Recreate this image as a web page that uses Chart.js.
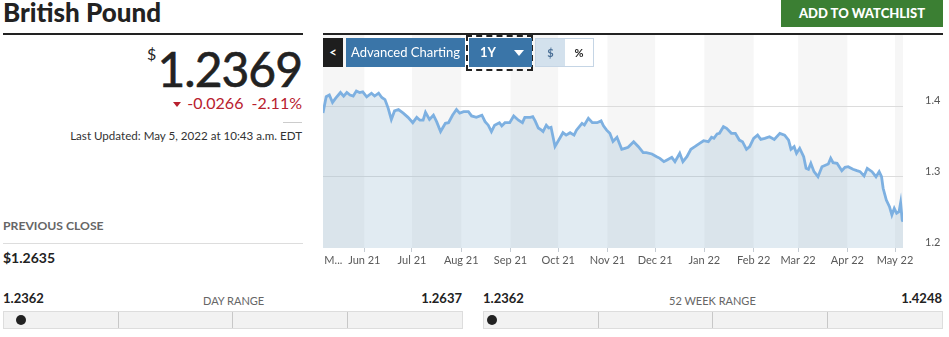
<!DOCTYPE html>
<html>
<head>
<meta charset="utf-8">
<script src="https://cdn.jsdelivr.net/npm/chart.js@4.4.1/dist/chart.umd.min.js"></script>
<style>
  body { margin: 0; width: 949px; height: 337px; position: relative; overflow: hidden; background: #fff; font-family: Lato, "Open Sans", sans-serif; color: #222; }
  .abs { position: absolute; white-space: nowrap; line-height: 1.2; }
  .rule { position: absolute; background: #222; }
  .btn { position: absolute; top: 38px; height: 29px; color: #fff; font-size: 13px; line-height: 29px; text-align: center; }
  .bar { position: absolute; top: 311px; height: 16px; background: #f2f2f2; border: 1px solid #ddd; }
  .bar i { position: absolute; top: 0; bottom: 0; width: 1px; background: #c8c8c8; }
  .bar b { position: absolute; top: 3px; width: 10px; height: 10px; border-radius: 50%; background: #222; }
  #chartBox { position: absolute; left: 323px; top: 35px; width: 626px; height: 235px; }
</style>
</head>
<body>
  <div class="abs" style="left:3px;top:-3px;font-size:26px;font-weight:900;">British Pound</div>
  <div class="rule" style="left:3px;top:33px;width:300px;height:2px;"></div>
  <div class="rule" style="left:323px;top:33px;width:620px;height:2px;"></div>
  <div class="abs" style="left:781px;top:0;width:162px;height:27px;background:#3b7f33;color:#fff;font-size:13px;font-weight:900;line-height:27px;text-align:center;">ADD TO WATCHLIST</div>

  <div class="abs" style="left:147px;top:44px;font-size:16px;">$</div>
  <div class="abs" style="right:647px;top:40px;font-size:48px;letter-spacing:-1px;-webkit-text-stroke:0.6px #222;">1.2369</div>
  <div class="abs" style="right:647px;top:93px;font-size:16px;color:#b8202e;"><span style="display:inline-block;width:0;height:0;border-left:4.5px solid transparent;border-right:4.5px solid transparent;border-top:5px solid #b8202e;margin-right:6px;vertical-align:2px;"></span>-0.0266&nbsp;&nbsp;-2.11%</div>
  <div class="abs" style="left:283px;top:122px;width:19px;height:1px;background:#ccc;"></div>
  <div class="abs" style="right:647px;top:129px;font-size:11.6px;color:#333;">Last Updated: May 5, 2022 at 10:43 a.m. EDT</div>

  <div class="abs" style="left:3px;top:219px;font-size:12.2px;font-weight:700;color:#666;">PREVIOUS CLOSE</div>
  <div class="abs" style="left:3px;top:243px;width:300px;height:1px;background:#ddd;"></div>
  <div class="abs" style="left:3px;top:250px;font-size:14px;font-weight:700;">$1.2635</div>

  <div class="abs" style="left:3px;top:291px;font-size:13px;font-weight:700;">1.2362</div>
  <div class="abs" style="left:203px;top:294px;font-size:11px;color:#666;">DAY RANGE</div>
  <div class="abs" style="right:487px;top:291px;font-size:13px;font-weight:700;">1.2637</div>
  <div class="bar" style="left:3px;width:458px;"><i style="left:114px"></i><i style="left:228px"></i><i style="left:343px"></i><b style="left:12px"></b></div>

  <div class="abs" style="left:483px;top:291px;font-size:13px;font-weight:700;">1.2362</div>
  <div class="abs" style="left:669px;top:294px;font-size:11px;color:#666;">52 WEEK RANGE</div>
  <div class="abs" style="right:7px;top:291px;font-size:13px;font-weight:700;">1.4248</div>
  <div class="bar" style="left:483px;width:458px;"><i style="left:114px"></i><i style="left:228px"></i><i style="left:343px"></i><b style="left:3px"></b></div>

  <div id="chartBox"><canvas id="fxChart"></canvas></div>

  <div class="btn" style="left:323px;width:20px;background:#1e1e1e;font-weight:700;">&lt;</div>
  <div class="btn" style="left:346px;width:119px;background:#3a75a8;">Advanced Charting</div>
  <div class="abs" style="left:466px;top:35px;width:63px;height:32px;border:2px dashed #222;"></div>
  <div class="btn" style="left:469px;width:63px;background:#3a75a8;font-weight:700;text-align:left;"><span style="margin-left:11px;">1Y</span><span style="position:absolute;left:45px;top:12px;width:0;height:0;border-left:5px solid transparent;border-right:5px solid transparent;border-top:6px solid #fff;"></span></div>
  <div class="abs" style="left:535px;top:38px;width:57px;height:27px;border:1px solid #c5d5e5;font-size:11px;font-weight:700;line-height:27px;">
    <span style="position:absolute;left:0;top:0;width:29px;height:27px;background:#d3e1ed;color:#4a6f96;text-align:center;">$</span>
    <span style="position:absolute;left:29px;top:0;width:28px;height:27px;color:#222;text-align:center;">%</span>
  </div>

<script>
// GBP/USD closing rate, one year
// x values are days since 2021-05-06
const days = [
  0, 2, 4, 6, 8, 11, 13, 15, 17, 19,
  21, 23, 25, 27.5, 30.5, 32.5, 35, 37, 39, 41,
  43, 45, 47.5, 50.5, 53.5, 56.5, 59, 61, 63, 64.5,
  67, 69.5, 71.5, 74, 77, 79, 81.5, 84, 86, 88.5,
  91.5, 93.5, 96.5, 100, 102, 104, 106, 108, 111, 112.5,
  114.5, 117.5, 120, 123, 125.5, 127, 130.5, 132, 133.5, 135.5,
  137.5, 138.5, 140.5, 142, 143.5, 146, 149, 151, 153, 155.5,
  158, 159.5, 163, 164.5, 167, 169.5, 172.5, 175, 176.5, 178.5,
  180.5, 182.5, 185, 188, 190, 192, 195.5, 198.5, 201.5, 203.5,
  207, 210, 212, 214.5, 216.5, 219.5, 221.5, 224.5, 226.5, 229,
  231.5, 234, 237, 239.5, 242.5, 244.5, 246, 248, 249.5, 252,
  254, 257, 259.5, 262, 264, 266.5, 268.5, 271, 273.5, 275.5,
  278, 281, 284, 287.5, 290.5, 293, 294.5, 296.5, 298, 300,
  302.5, 304, 305.5, 307, 309, 311.5, 314, 316.5, 318, 319.5,
  321, 323.5, 326.5, 328.5, 330.5, 333.5, 336, 338, 340.5, 342.5,
  345.5, 348, 350, 351.5, 352.5, 354.5, 356.5, 358, 359.5, 361,
  362.5, 363.5, 364.5, 365
];
const rates = [
  1.390, 1.413, 1.4155, 1.405, 1.411, 1.419, 1.414, 1.419, 1.4155, 1.414,
  1.421, 1.419, 1.420, 1.413, 1.418, 1.414, 1.418, 1.412, 1.409, 1.397,
  1.381, 1.393, 1.395, 1.390, 1.384, 1.3765, 1.384, 1.380, 1.380, 1.391,
  1.381, 1.387, 1.378, 1.364, 1.3756, 1.3765, 1.387, 1.395, 1.390, 1.392,
  1.392, 1.386, 1.384, 1.387, 1.378, 1.373, 1.364, 1.373, 1.3765, 1.372,
  1.3765, 1.3765, 1.386, 1.380, 1.3765, 1.384, 1.384, 1.385, 1.379, 1.369,
  1.366, 1.364, 1.373, 1.369, 1.370, 1.343, 1.3545, 1.3624, 1.359, 1.3624,
  1.359, 1.366, 1.3756, 1.3732, 1.3827, 1.3765, 1.3765, 1.379, 1.372, 1.366,
  1.3615, 1.350, 1.356, 1.339, 1.3404, 1.3418, 1.3497, 1.3427, 1.3343, 1.3343,
  1.3324, 1.3286, 1.3263, 1.3216, 1.324, 1.3277, 1.3216, 1.3333, 1.3216, 1.3286,
  1.339, 1.3427, 1.3474, 1.3511, 1.3497, 1.3559, 1.3545, 1.3606, 1.3615, 1.3709,
  1.3686, 1.3615, 1.3615, 1.352, 1.3497, 1.339, 1.3427, 1.3545, 1.359, 1.353,
  1.3545, 1.3568, 1.353, 1.3615, 1.359, 1.352, 1.339, 1.3427, 1.3333, 1.3404,
  1.3286, 1.3122, 1.3108, 1.3193, 1.3075, 1.3004, 1.3145, 1.3169, 1.3183, 1.3263,
  1.3202, 1.3193, 1.3089, 1.3136, 1.3145, 1.3108, 1.3089, 1.3075, 1.3014, 1.3122,
  1.3075, 1.3004, 1.3075, 1.3004, 1.2841, 1.2676, 1.2582, 1.2465, 1.2559, 1.2489,
  1.2511, 1.2638, 1.2394, 1.2369
];

const startDay = "2021-05-06";
const monthStarts = ["2021-06-01", "2021-07-01", "2021-08-01", "2021-09-01", "2021-10-01", "2021-11-01",
                     "2021-12-01", "2022-01-01", "2022-02-01", "2022-03-01", "2022-04-01", "2022-05-01"];
const monthLabels = ["Jun 21", "Jul 21", "Aug 21", "Sep 21", "Oct 21", "Nov 21",
                     "Dec 21", "Jan 22", "Feb 22", "Mar 22", "Apr 22", "May 22"];
const firstLabel = "M...";   // cut-off label for the partial first month
const firstLabelDay = 6.5;
const yTicks = [1.2, 1.3, 1.4];

function dayOf(s) {
  return (Date.parse(s) - Date.parse(startDay)) / 86400000;
}
const monthDays = monthStarts.map(dayOf);
const tickDays = [firstLabelDay].concat(monthDays);
const tickLabels = [firstLabel].concat(monthLabels);

// month stripes behind the area, every other month shaded
const stripes = {
  id: "stripes",
  beforeDraw(chart) {
    const { ctx, chartArea, scales } = chart;
    const edges = [scales.x.min].concat(monthDays, [scales.x.max]);
    ctx.save();
    for (let i = 0; i < edges.length - 1; i++) {
      if (i % 2 === 1) continue;
      const x0 = scales.x.getPixelForValue(edges[i]);
      const x1 = scales.x.getPixelForValue(edges[i + 1]);
      ctx.fillStyle = "#f6f6f6";
      ctx.fillRect(x0, chartArea.top, x1 - x0, chartArea.bottom - chartArea.top);
    }
    ctx.restore();
  }
};

Chart.defaults.font.family = "Lato, 'Open Sans', sans-serif";

new Chart(document.getElementById("fxChart"), {
  type: "line",
  data: {
    datasets: [{
      data: days.map((d, i) => ({ x: d, y: rates[i] })),
      borderColor: "#7db0e1",
      borderWidth: 2.8,
      backgroundColor: "rgba(135, 175, 205, 0.25)",
      fill: "start",
      pointRadius: 0,
      tension: 0
    }]
  },
  options: {
    responsive: true,
    maintainAspectRatio: false,
    animation: false,
    layout: { autoPadding: false, padding: 0 },
    plugins: { legend: { display: false }, tooltip: { enabled: false } },
    scales: {
      x: {
        type: "linear",
        min: 0,
        max: 365,
        afterBuildTicks: axis => { axis.ticks = tickDays.map(v => ({ value: v })); },
        afterFit: scale => {
          scale.height = 22;
          scale.paddingLeft = 0;
          scale.paddingRight = 0;
        },
        ticks: {
          autoSkip: false,
          maxRotation: 0,
          padding: 2,
          color: "#5a5a5a",
          font: { size: 11 },
          callback: (v, i) => tickLabels[i]
        },
        grid: {
          drawOnChartArea: false,
          tickLength: 4,
          tickColor: ctx => (ctx.index === 0 ? "rgba(0,0,0,0)" : "#c5ccd3")
        },
        border: { display: false }
      },
      y: {
        position: "right",
        min: 1.2,
        max: 1.5,
        afterBuildTicks: axis => { axis.ticks = yTicks.map(v => ({ value: v })); },
        afterFit: scale => {
          scale.width = 46;
          scale.paddingTop = 0;
          scale.paddingBottom = 0;
        },
        ticks: {
          padding: 22,
          labelOffset: -6,
          color: "#555",
          font: { size: 11 },
          callback: v => v.toFixed(1)
        },
        grid: {
          drawTicks: false,
          color: ctx => (ctx.tick && ctx.tick.value > 1.25 ? "#dcdcdc" : "rgba(0,0,0,0)")
        },
        border: { display: false }
      }
    }
  },
  plugins: [stripes]
});
</script>
</body>
</html>
